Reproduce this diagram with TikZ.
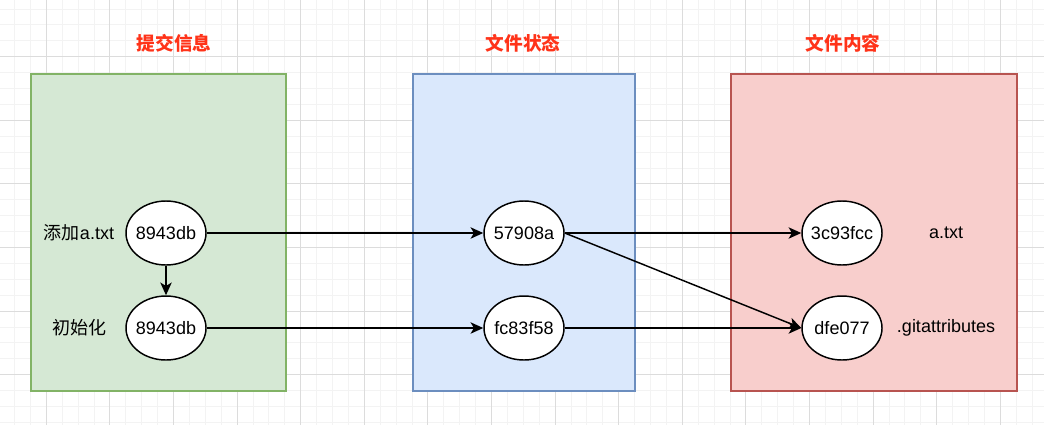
\documentclass[tikz,border=0pt]{standalone}
\usepackage{fontspec}
\setmainfont{Liberation Sans}
\newfontfamily\cjk{Noto Sans CJK SC}
\usetikzlibrary{shapes.geometric,arrows.meta}
\definecolor{gridminor}{HTML}{F3F3F3}
\definecolor{gridmajor}{HTML}{DCDCDC}
\definecolor{greenfill}{HTML}{D5E8D4}
\definecolor{greenline}{HTML}{82B366}
\definecolor{bluefill}{HTML}{DAE8FC}
\definecolor{blueline}{HTML}{6C8EBF}
\definecolor{redfill}{HTML}{F8CECC}
\definecolor{redline}{HTML}{B85450}
\definecolor{titlered}{HTML}{FF3319}
\newcommand{\zw}[1]{\makebox[0pt][c]{#1}}
\tikzset{
  panel/.style={draw, line width=1.1pt, minimum height=237.75pt, inner sep=0pt},
  hash/.style={ellipse, draw=black, fill=white, line width=1.1pt, minimum width=60pt, minimum height=48pt, inner sep=0pt, font=\fontsize{13.5}{16}\selectfont},
  lbl/.style={inner sep=0pt, font=\fontsize{13.5}{16}\selectfont},
  title/.style={inner sep=0pt, text=titlered, font=\cjk\bfseries\fontsize{14}{17}\selectfont},
  conn/.style={line width=1.1pt, -{Stealth[length=9.5pt,width=8.5pt,inset=2.5pt]}},
  gmin/.style={draw=gridminor, line width=0.75pt},
  gmaj/.style={draw=gridmajor, line width=0.75pt}
}
\begin{document}
\begin{tikzpicture}[x=0.75pt,y=-0.75pt]
\useasboundingbox (0,0) rectangle (1044,425);
\fill[white] (0,0) rectangle (1044,425);
% grid
\foreach \j in {-2,...,63} \draw[gmin] ({46.3+15.9*\j},0) -- ({46.3+15.9*\j},425);
\foreach \j in {-3,...,23} \draw[gmin] (0,{56.7+15.9*\j}) -- (1044,{56.7+15.9*\j});
\foreach \j in {-1,...,16} \draw[gmaj] ({46.3+63.6*\j},0) -- ({46.3+63.6*\j},425);
\foreach \j in {-1,...,6} \draw[gmaj] (0,{56.7+63.6*\j}) -- (1044,{56.7+63.6*\j});
% panels
\node[panel, fill=greenfill, draw=greenline, minimum width=191.25pt] (pc) at (158.5,232.5) {};
\node[panel, fill=bluefill, draw=blueline, minimum width=166.5pt] (ps) at (524,232.5) {};
\node[panel, fill=redfill, draw=redline, minimum width=214.5pt] (pf) at (874,232.5) {};
% titles
\node[title] (t1) at (174,43) {提交信息};
\node[title] (t2) at (523,43) {文件状态};
\node[title] (t3) at (843,43) {文件内容};
% ellipses
\node[hash] (c2) at (166,233) {\zw{8943db}};
\node[hash] (c1) at (166,328) {\zw{8943db}};
\node[hash] (s2) at (524,233) {\zw{57908a}};
\node[hash] (s1) at (524,328) {\zw{fc83f58}};
\node[hash] (f2) at (842,233) {\zw{3c93fcc}};
\node[hash] (f1) at (842,328) {\zw{dfe077}};
% labels
\node[lbl] (l1) at (79,233) {{\cjk 添加}a.txt};
\node[lbl] (l2) at (79,328) {\cjk 初始化};
\node[lbl] (l3) at (946,233) {a.txt};
\node[lbl] (l4) at (946,328) {.gitattributes};
% connectors
\draw[conn] (c2) -- (s2);
\draw[conn] (c2) -- (c1);
\draw[conn] (c1) -- (s1);
\draw[conn] (s2) -- (f2);
\draw[conn] (s2.east) -- (f1.west);
\draw[conn] (s1) -- (f1);
\end{tikzpicture}
\end{document}
